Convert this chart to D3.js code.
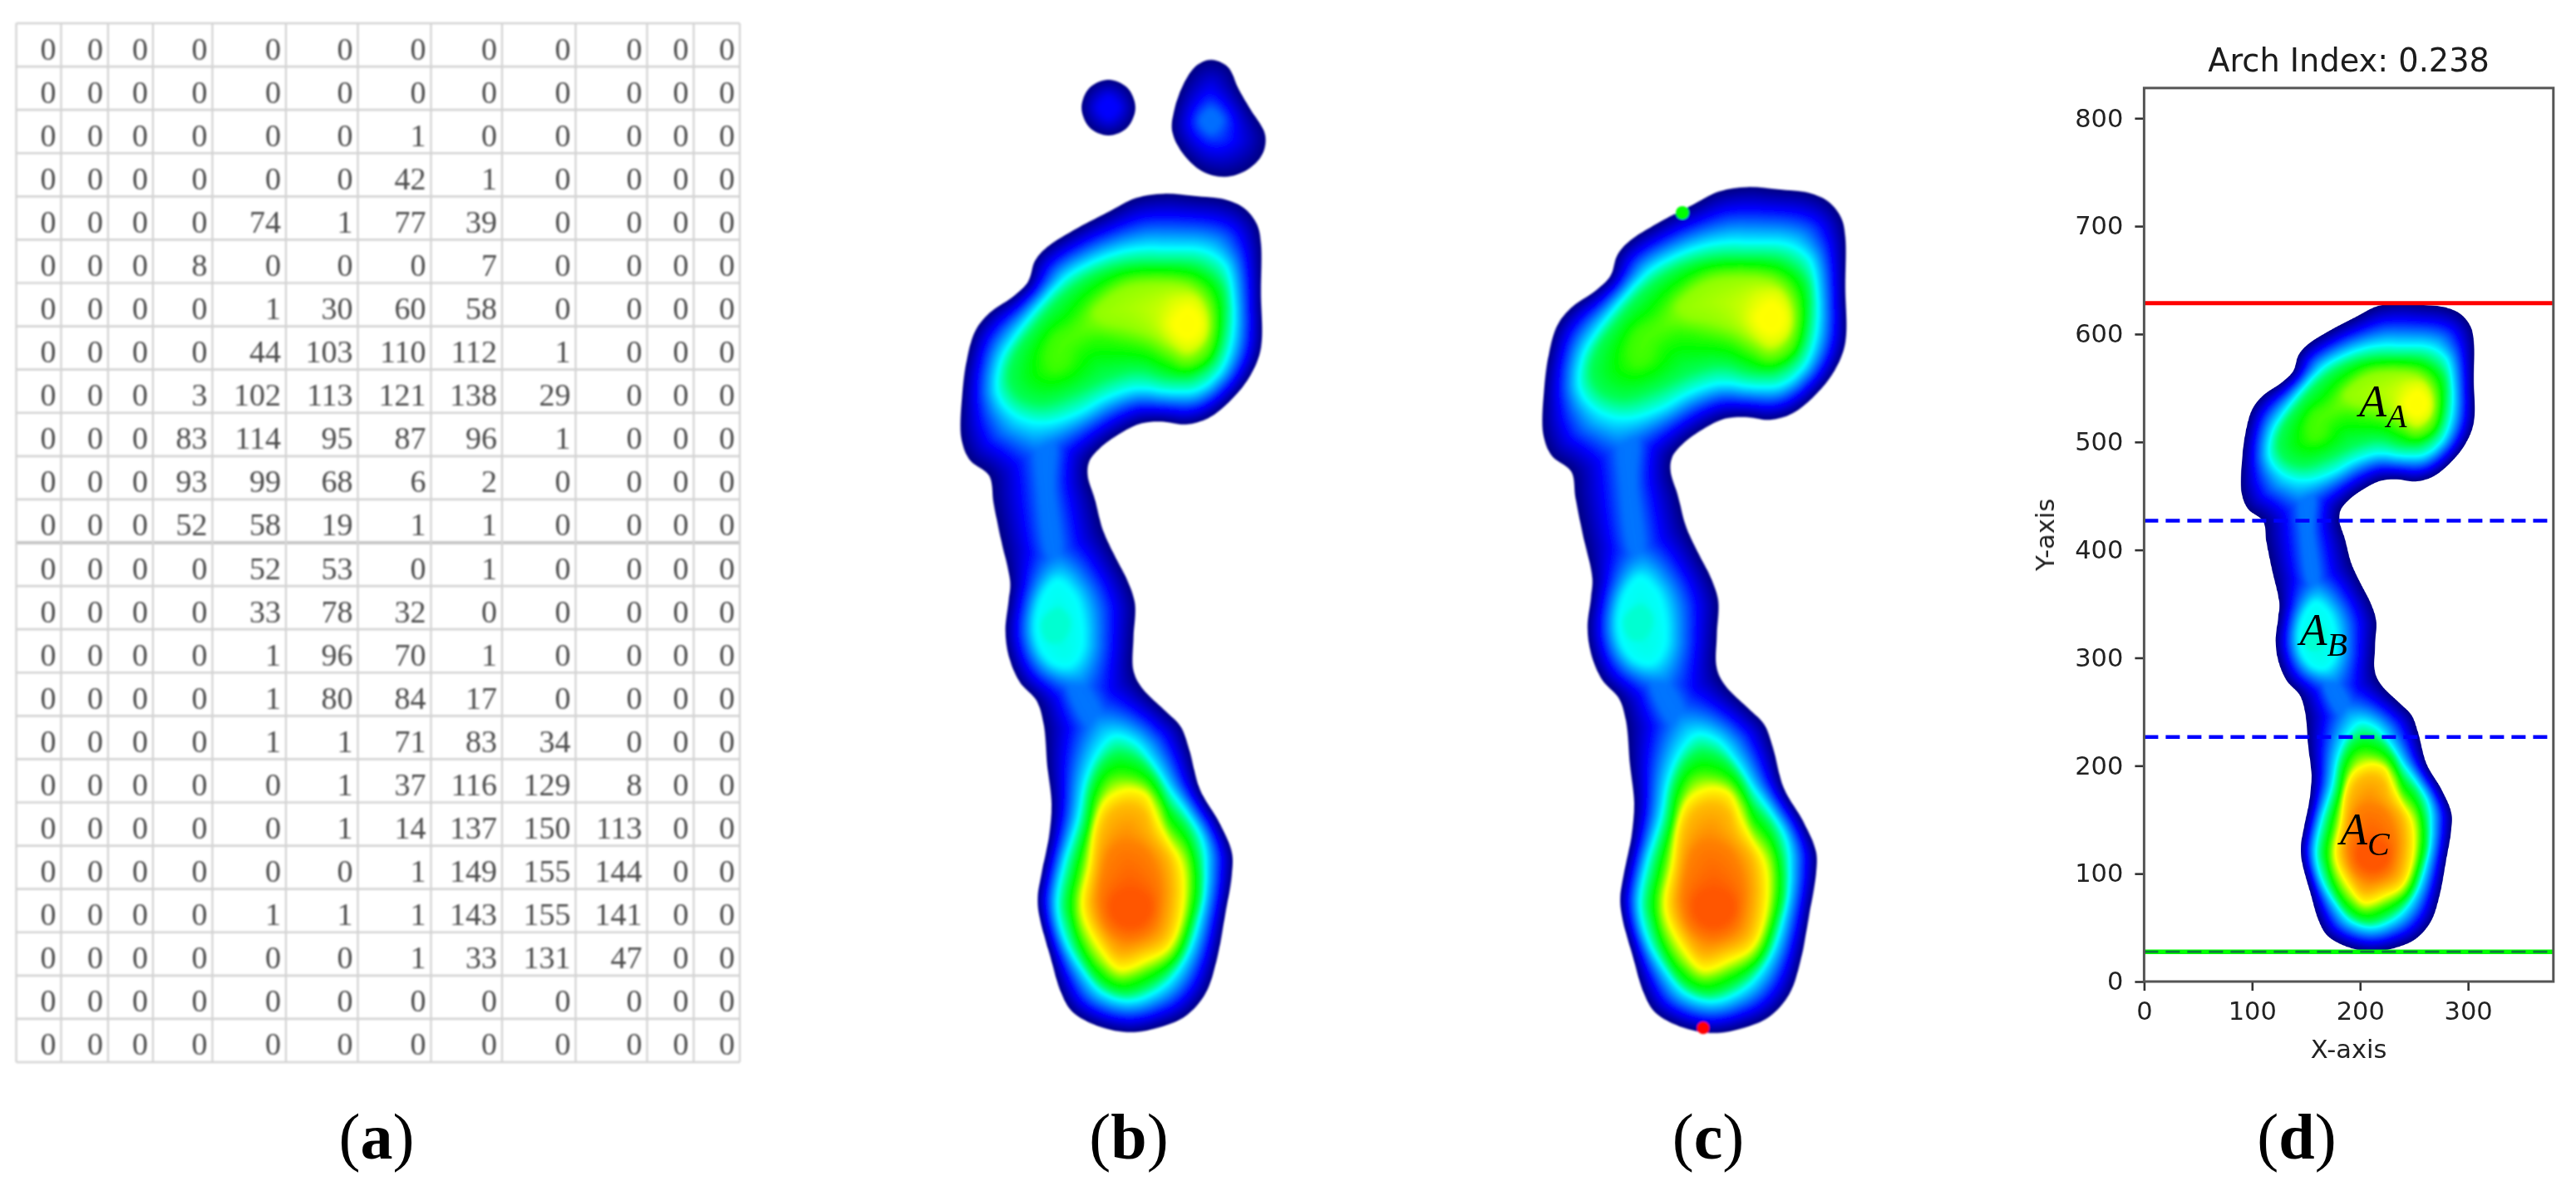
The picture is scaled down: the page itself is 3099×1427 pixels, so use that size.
<!DOCTYPE html>
<html><head><meta charset="utf-8">
<script src="https://cdn.jsdelivr.net/npm/d3@7/dist/d3.min.js"></script>
<style>html,body{margin:0;padding:0;background:#fff}svg{display:block}</style>
</head><body><svg id="fig" width="3099" height="1427" xmlns="http://www.w3.org/2000/svg"></svg>
<script>
// ---------- DATA ----------
const tableRows = [
[0,0,0,0,0,0,0,0,0,0,0,0],[0,0,0,0,0,0,0,0,0,0,0,0],[0,0,0,0,0,0,1,0,0,0,0,0],[0,0,0,0,0,0,42,1,0,0,0,0],
[0,0,0,0,74,1,77,39,0,0,0,0],[0,0,0,8,0,0,0,7,0,0,0,0],[0,0,0,0,1,30,60,58,0,0,0,0],[0,0,0,0,44,103,110,112,1,0,0,0],
[0,0,0,3,102,113,121,138,29,0,0,0],[0,0,0,83,114,95,87,96,1,0,0,0],[0,0,0,93,99,68,6,2,0,0,0,0],[0,0,0,52,58,19,1,1,0,0,0,0],
[0,0,0,0,52,53,0,1,0,0,0,0],[0,0,0,0,33,78,32,0,0,0,0,0],[0,0,0,0,1,96,70,1,0,0,0,0],[0,0,0,0,1,80,84,17,0,0,0,0],
[0,0,0,0,1,1,71,83,34,0,0,0],[0,0,0,0,0,1,37,116,129,8,0,0],[0,0,0,0,0,1,14,137,150,113,0,0],[0,0,0,0,0,0,1,149,155,144,0,0],
[0,0,0,0,1,1,1,143,155,141,0,0],[0,0,0,0,0,0,1,33,131,47,0,0],[0,0,0,0,0,0,0,0,0,0,0,0],[0,0,0,0,0,0,0,0,0,0,0,0]];

const captions = ["(a)","(b)","(c)","(d)"];
const archTitle = "Arch Index: 0.238";
const xTicks = [0,100,200,300];
const yTicks = [0,100,200,300,400,500,600,700,800];
const redLine = 628.7, blueLines = [427, 226.6], greenLine = 27.6;
const regionLabels = [{main:"A",sub:"A",x:199,y:523.9},{main:"A",sub:"B",x:144,y:311.6},{main:"A",sub:"C",x:181.4,y:126.7}];
const topDot = [189.3,610.5], bottomDot = [204.1,31.4];

// Footprint outlines and pressure iso-lines, in the X-axis / Y-axis units of panel (d)
const footOutline = [[235.6,628.8],[257.5,627.1],[279.4,624.6],[293.4,618.3],[302.3,607],[305.3,593.2],[305.3,558.2],[305.3,518.1],[297.4,498],[283.4,480.5],[267.5,467.9],[251.6,463.4],[233.7,465.4],[219.7,464.2],[205.8,457.9],[189.9,446.6],[181.9,436.6],[180.9,426.6],[185.9,410.3],[191.8,387.8],[199.8,370.2],[209.8,350.6],[214.8,334.7],[213.8,310.7],[213.8,286.8],[219.7,274.8],[235.7,258.9],[247.6,246.9],[253.6,231],[261.5,201.8],[275.5,177.8],[284.4,156.6],[284.4,140.6],[279.5,111.4],[273.5,79.5],[265.5,55.6],[251.6,39.6],[233.7,31.6],[211.8,27.7],[189.9,31.6],[170,42.3],[162,55.6],[154,82.1],[146.1,111.4],[145.1,124.7],[148.1,143.3],[153,167.2],[155,191.1],[152,217.7],[149.1,249.6],[144.1,265.5],[132.1,278.8],[124.2,297.4],[121.8,316],[124.2,337.3],[125.2,350.6],[118.2,382.7],[113.2,407.8],[110.2,426.6],[96.3,437.9],[90.3,452.9],[90.7,483],[94.3,510.5],[100.3,530.6],[110.2,543.1],[128.1,555.6],[138.1,565.7],[143.1,580.7],[152,590.7],[171.9,603.3],[195.8,615.8],[215.7,625.8]];
const smallToe = [[195.8,710.5],[209.5,704.6],[215.1,690.5],[209.5,676.4],[195.8,670.5],[182.1,676.4],[176.5,690.5],[182.1,704.6]];
const bigToe = [[269.5,724.8],[281.4,719.8],[289.4,703.5],[297.4,689.7],[308.3,670.9],[306.3,657.1],[295.4,645.9],[279.4,640.9],[263.5,644.6],[249.6,657.1],[241.6,673.4],[243.6,691],[251.6,711],[259.5,721]];

const fore36 = [[237.6,589.5],[263.5,588.2],[279.4,578.2],[285.4,553.1],[284.4,523.1],[275.5,500.5],[259.5,488],[239.6,486.7],[217.7,489.2],[195.8,483],[171.9,470.4],[148,464.2],[128.1,470.4],[116.2,485.5],[118.2,508],[128.1,525.6],[148,550.6],[167.9,570.7],[195.8,584.5],[217.7,589.5]];
const fore45 = [[231.7,579.5],[261.5,576.9],[277.5,563.2],[279.4,533.1],[271.5,508],[255.6,496.8],[237.6,496.8],[217.7,501.8],[195.8,496.8],[171.9,485.5],[148,478],[132.1,483],[124.1,495.5],[128.1,513],[142.1,533.1],[162,555.6],[183.9,570.7],[207.8,578.2]];
const fore53 = [[227.7,570.7],[257.5,566.9],[269.5,555.7],[273.5,535.6],[267.5,513],[251.6,504.3],[237.6,510.5],[223.7,518.1],[203.8,523.1],[185.9,525.6],[171.9,518.1],[166,505.5],[156,501.8],[151,510.5],[156,525.6],[170,535.6],[183.9,553.1],[203.8,566.9]];
const fore58 = [[225.7,564.4],[253.6,561.9],[265.5,550.6],[268.5,533.1],[262.5,518.1],[251.6,511.8],[239.6,518.1],[225.7,526.8],[207.8,533.1],[191.8,536.9],[185.9,543.1],[195.8,554.4],[209.8,561.9]];
const fore62 = [[239.6,552],[257.5,555],[266.5,541],[265.5,525],[253.6,516],[243.6,521],[233.6,535.6]];
const fore645 = [[252.6,547],[260,542],[262,535.6],[259,528],[252.6,525],[246,528],[242,535.6],[246,542]];

const heel36 = [[199.8,240.3],[213.8,236.3],[227.7,220.4],[239.6,201.8],[251.6,185.8],[263.5,164.5],[265.5,137.9],[261.5,111.4],[251.6,82.1],[235.7,60.9],[211.8,50.2],[191.9,55.6],[175.9,74.2],[164,95.4],[159,119.4],[164,148.6],[174,180.5],[179.9,209.7],[189.9,231]];
const heel45 = [[201.8,228.3],[216.8,224.3],[230.7,209.7],[239.6,191.1],[252.6,175.2],[261.1,151.2],[262.2,124.7],[257.6,107.4],[247.6,80.8],[229.7,63.5],[207.8,55],[189.9,62.2],[174.9,83.5],[166.4,107.4],[164,119.4],[169,145.9],[177.9,177.8],[182.9,204.4],[191.9,221.7]];
const heel53 = [[204.8,212.4],[220.7,208.4],[232.7,193.8],[238.6,177.8],[251.6,160.6],[256,137.9],[251.6,104.7],[241.6,82.1],[223.7,70.2],[203.8,64.1],[188.9,74.2],[175.5,96.8],[171.4,119.4],[175.9,144.6],[183.5,175.2],[187.5,195.1],[195.8,209.7]];
const heel58 = [[206.8,207.1],[221.7,203.1],[231.7,188.5],[238,172.5],[250,155.2],[253.6,137.9],[250,107.4],[240.6,84.8],[223.7,74.2],[203.8,68.3],[189.5,79.5],[176.9,102.1],[173.9,119.4],[178.9,145.9],[184.3,176.5],[188.9,189.8],[196.8,203.1]];
const heel62 = [[208.8,203.9],[222.7,199.9],[231.3,184.5],[238.6,167.2],[249.2,149.9],[250.6,116.7],[240,88.8],[223.7,77.4],[203.8,70.8],[189.5,84.8],[177.5,107.4],[175.5,123.3],[180.9,148.6],[185.3,177.8],[192.9,196.4]];
const heel645 = [[209.8,201.8],[223.7,197.8],[230.7,180.5],[239.6,164.5],[248.6,145.9],[248.6,111.4],[239.6,87.5],[223.7,79.5],[203.8,72.8],[189.9,87.5],[177.9,111.4],[176.9,124.7],[181.9,148.6],[185.9,177.8],[193.8,193.8]];
const heel70 = [[209.8,191.1],[221.7,185.8],[227.7,169.9],[239.6,151.2],[242.6,122],[235.7,95.4],[219.7,86.1],[203.8,82.1],[191.9,95.4],[182.9,116.7],[185.9,143.3],[190.9,172.5],[197.8,185.8]];
const heel75 = [[207.8,164.5],[221.7,159.2],[231.7,140.6],[233.7,119.4],[227.7,100.7],[209.8,92.8],[195.8,100.7],[188.9,119.4],[191.9,143.3],[197.8,159.2]];
const heel787 = [[211.8,130],[223.7,124.7],[225.7,114],[217.7,104.7],[205.8,104.7],[197.8,114],[199.8,124.7]];
const mid36 = [[159,352],[171,342],[177,324],[177,302],[168,290],[156,292],[147,302],[143,318.7],[148,340]];

const isoBands = [
  {level:.36, polys:[fore36,heel36,mid36]},
  {level:.45, polys:[fore45,heel45]},
  {level:.53, polys:[fore53,heel53]},
  {level:.58, polys:[fore58,heel58]},
  {level:.62, polys:[fore62,heel62]},
  {level:.645,polys:[fore645,heel645]},
  {level:.70, polys:[heel70]},
  {level:.75, polys:[heel75]},
  {level:.787,polys:[heel787]}];
const localRises = [
  {level:.24, polys:[[[146,455],[156,455],[156,418],[160,368],[154,368],[146,418]],
                     [[166,285],[172,285],[196,240],[190,238],[172,262]]]},
  {level:.385, polys:[[[160,332],[168,322],[162,308],[152,308],[148,322]]]},
  {level:.235,polys:[[[269.5,689],[277,681],[269.5,673],[262,681]]]},
  {level:.14, polys:[[[195.8,698],[203,690.5],[195.8,683],[188.5,690.5]]]}];

const cmapStops = [0,.14,.36,.5,.645,.86,1];
const cmapColors = ["#00007f","#0000ff","#00ffff","#00ff00","#ffff00","#ff0000","#7f0000"];

// ---------- LAYOUT ----------
const svg = d3.select("#fig");
svg.append("rect").attr("width",3099).attr("height",1427).attr("fill","#fff");
const defs = svg.append("defs");
defs.append("filter").attr("id","soft").attr("x","-2%").attr("y","-2%").attr("width","104%").attr("height","104%")
  .append("feGaussianBlur").attr("stdDeviation",0.8);
defs.append("filter").attr("id","softer").attr("x","-5%").attr("y","-5%").attr("width","110%").attr("height","110%")
  .append("feGaussianBlur").attr("stdDeviation",0.55);

// ---------- TABLE (a) ----------
const colEdges = [19.5,73.5,130,184,255.5,344,430.5,518.5,604,692.5,778.5,834.5,890];
const tx = d3.scaleLinear().domain(d3.range(13)).range(colEdges);
const ty = d3.scaleLinear().domain([0,24]).range([28,1278]);
const tg = svg.append("g").attr("filter","url(#soft)");
tg.selectAll("line.h").data(d3.range(25)).join("line").attr("x1",tx(0)).attr("x2",tx(12))
  .attr("y1",d=>ty(d)).attr("y2",d=>ty(d)).attr("stroke",d=>d===12?"#c8c8c8":"#d4d4d4").attr("stroke-width",d=>d===12?4:2.6);
tg.selectAll("line.v").data(d3.range(13)).join("line").attr("y1",ty(0)).attr("y2",ty(24))
  .attr("x1",d=>tx(d)).attr("x2",d=>tx(d)).attr("stroke","#d4d4d4").attr("stroke-width",2.4);
const cells = tableRows.flatMap((r,i)=>r.map((v,j)=>({v,i,j})));
tg.selectAll("text").data(cells).join("text")
  .attr("x",d=>tx(d.j+1)-6).attr("y",d=>ty(d.i)+43.5)
  .attr("text-anchor","end").attr("font-family","'Liberation Serif'").attr("font-size",38).attr("fill","#4d4d4d")
  .text(d=>d.v);

// ---------- FOOT FIELD ----------
const S=2, ux0=80, ux1=320, uy0=15, uy1=735, W=(ux1-ux0)*S, H=(uy1-uy0)*S;
const gx=d3.scaleLinear([ux0,ux1],[0,W]), gy=d3.scaleLinear([uy0,uy1],[H,0]);
function raster(polys){
  const c=document.createElement("canvas");c.width=W;c.height=H;
  const ctx=c.getContext("2d",{willReadFrequently:true});
  const line=d3.line().x(p=>gx(p[0])).y(p=>gy(p[1])).curve(d3.curveCatmullRomClosed.alpha(.5)).context(ctx);
  ctx.fillStyle="#000";ctx.beginPath();polys.forEach(p=>line(p));ctx.fill();
  const px=ctx.getImageData(0,0,W,H).data;
  const alpha=new Uint8Array(W*H);
  for(let i=0;i<W*H;i++)alpha[i]=px[i*4+3];
  return alpha;
}
function edt(mask,target){ // distance to the nearest pixel with (mask>127)===target
  const INF=1e12,N=Math.max(W,H);
  const g=new Float64Array(W*H);
  for(let i=0;i<W*H;i++)g[i]=((mask[i]>127)===target)?0:INF;
  const f=new Float64Array(N),d=new Float64Array(N),z=new Float64Array(N+1),v=new Int32Array(N);
  function pass(n){
    let k=0;v[0]=0;z[0]=-INF;z[1]=INF;
    for(let q=1;q<n;q++){
      let s;
      do{const r=v[k];s=(f[q]+q*q-f[r]-r*r)/(2*q-2*r);}while(s<=z[k]&&--k>-1);
      k++;v[k]=q;z[k]=s;z[k+1]=INF;
    }
    k=0;
    for(let q=0;q<n;q++){while(z[k+1]<q)k++;const r=v[k];d[q]=(q-r)*(q-r)+f[r];}
  }
  for(let x=0;x<W;x++){
    for(let y=0;y<H;y++)f[y]=g[y*W+x];
    pass(H);
    for(let y=0;y<H;y++)g[y*W+x]=d[y];
  }
  for(let y=0;y<H;y++){
    for(let x=0;x<W;x++)f[x]=g[y*W+x];
    pass(W);
    for(let x=0;x<W;x++)g[y*W+x]=d[x];
  }
  const o=new Float32Array(W*H);
  for(let i=0;i<W*H;i++)o[i]=Math.sqrt(g[i]);
  return o;
}
const outer=raster([footOutline,smallToe,bigToe]);
const dEdge=edt(outer,false);
const bands=isoBands.map(b=>{const m=raster(b.polys);return {level:b.level,m,toIn:edt(m,true),toOut:edt(m,false)};});
const rises=localRises.map(b=>{const m=raster(b.polys);return {level:b.level,m,toIn:edt(m,true)};});
let field=new Float32Array(W*H);
for(let i=0;i<W*H;i++){
  if(outer[i]===0)continue;
  let k=-1;
  for(let b=0;b<bands.length;b++){ if(bands[b].m[i]>127)k=b; else break; }
  let v;
  if(k<0){const dA=dEdge[i],dB=bands[0].toIn[i];v=bands[0].level*dA/(dA+dB+1e-6);}
  else if(k===bands.length-1)v=bands[k].level;
  else{const dA=bands[k].toOut[i],dB=bands[k+1].toIn[i];v=bands[k].level+(bands[k+1].level-bands[k].level)*dA/(dA+dB+1e-6);}
  for(const r of rises){
    const h=r.m[i]>127?r.level:r.level*dEdge[i]/(dEdge[i]+r.toIn[i]+1e-6);
    if(h>v)v=h;
  }
  field[i]=v;
}
function boxBlur(src,rad){
  const tmp=new Float32Array(W*H),out=new Float32Array(W*H),n=2*rad+1;
  for(let y=0;y<H;y++){let s=0;
    for(let x=-rad;x<=rad;x++)s+=src[y*W+Math.max(0,Math.min(W-1,x))];
    for(let x=0;x<W;x++){tmp[y*W+x]=s/n;s+=src[y*W+Math.min(W-1,x+rad+1)]-src[y*W+Math.max(0,x-rad)];}}
  for(let x=0;x<W;x++){let s=0;
    for(let y=-rad;y<=rad;y++)s+=tmp[Math.max(0,Math.min(H-1,y))*W+x];
    for(let y=0;y<H;y++){out[y*W+x]=s/n;s+=tmp[Math.min(H-1,y+rad+1)*W+x]-tmp[Math.max(0,y-rad)*W+x];}}
  return out;
}
field=boxBlur(boxBlur(boxBlur(field,3),3),3);
const cmap=d3.scaleLinear().domain(cmapStops).range(cmapColors).clamp(true);
const lut=d3.range(1024).map(i=>d3.rgb(cmap(i/1023)));
function footImage(withToes){
  const c=document.createElement("canvas");c.width=W;c.height=H;
  const ctx=c.getContext("2d");const im=ctx.createImageData(W,H);
  const cut=Math.round(gy(634));
  for(let y=0;y<H;y++)for(let x=0;x<W;x++){
    const i=y*W+x,col=lut[Math.min(1023,Math.round(field[i]*1023))];
    im.data[i*4]=col.r;im.data[i*4+1]=col.g;im.data[i*4+2]=col.b;
    im.data[i*4+3]=(!withToes&&y<cut)?0:outer[i];
  }
  ctx.putImageData(im,0,0);
  return c.toDataURL("image/png");
}
const urlToes=footImage(true),urlFoot=footImage(false);
function drawFoot(g,sx,sy,url){
  g.append("image").attr("href",url).attr("preserveAspectRatio","none")
   .attr("x",sx(ux0)).attr("y",sy(uy1)).attr("width",sx(ux1)-sx(ux0)).attr("height",sy(uy0)-sy(uy1));
}

// ---------- PANEL (b) ----------
const bx=d3.scaleLinear([90.5,305.3],[1157,1517]), by=d3.scaleLinear([27.7,628.8],[1242,233]);
drawFoot(svg.append("g").attr("filter","url(#soft)"),bx,by,urlToes);

// ---------- PANEL (c) ----------
const cx=d3.scaleLinear([90.5,305.3],[1857,2220]), cy=d3.scaleLinear([27.7,628.8],[1243,225]);
const cg=svg.append("g").attr("filter","url(#soft)");
drawFoot(cg,cx,cy,urlFoot);
cg.append("circle").attr("cx",cx(topDot[0])).attr("cy",cy(topDot[1])).attr("r",8).attr("fill","#00ff00");
cg.append("circle").attr("cx",cx(bottomDot[0])).attr("cy",cy(bottomDot[1])).attr("r",7.5).attr("fill","#ff0000");

// ---------- PANEL (d) ----------
const dL=2579.4,dR=3071.8,dT=105.9,dB=1181;
const dx=d3.scaleLinear([0,379],[dL,dR]), dy=d3.scaleLinear([0,828],[dB,dT]);
const dg=svg.append("g").attr("filter","url(#softer)");
drawFoot(dg,dx,dy,urlFoot);
const lineG=dg.append("g");
function hLine(v,col,w,dash){const l=lineG.append("line").attr("x1",dL).attr("x2",dR).attr("y1",dy(v)).attr("y2",dy(v)).attr("stroke",col).attr("stroke-width",w);if(dash)l.attr("stroke-dasharray",dash);}
hLine(redLine,"#ff0000",5);
blueLines.forEach(v=>hLine(v,"#0000ff",4.5,"17 9"));
hLine(greenLine,"#00ff00",5.5);
hLine(greenLine,"#0b7a3b",2.6,"17 9");
const fontD="'DejaVu Sans'";
const ax=dg.append("g").attr("transform",`translate(0,${dB})`).call(d3.axisBottom(dx).tickValues(xTicks).tickSize(11).tickPadding(13).tickFormat(d3.format("d")));
const ay=dg.append("g").attr("transform",`translate(${dL},0)`).call(d3.axisLeft(dy).tickValues(yTicks).tickSize(11).tickPadding(14).tickFormat(d3.format("d")));
[ax,ay].forEach(a=>{a.selectAll("text").attr("font-family",fontD).attr("font-size",30.5).attr("fill","#222");
  a.selectAll("line").attr("stroke","#333").attr("stroke-width",2.6);a.select(".domain").remove();});
dg.append("rect").attr("x",dL).attr("y",dT).attr("width",dR-dL).attr("height",dB-dT).attr("fill","none").attr("stroke","#555").attr("stroke-width",3);
dg.append("text").attr("x",(dL+dR)/2).attr("y",85.5).attr("text-anchor","middle").attr("font-family",fontD).attr("font-size",38.3).attr("fill","#1a1a1a").text(archTitle);
dg.append("text").attr("x",(dL+dR)/2).attr("y",1272.5).attr("text-anchor","middle").attr("font-family",fontD).attr("font-size",30.5).attr("fill","#222").text("X-axis");
dg.append("text").attr("transform",`translate(2471,${(dT+dB)/2}) rotate(-90)`).attr("text-anchor","middle").attr("font-family",fontD).attr("font-size",30.5).attr("fill","#222").text("Y-axis");
const lab=dg.selectAll("text.region").data(regionLabels).join("text").attr("class","region")
  .attr("x",d=>dx(d.x)).attr("y",d=>dy(d.y)).attr("font-family","'Liberation Serif'").attr("font-style","italic").attr("fill","#000").attr("font-size",54);
lab.append("tspan").text(d=>d.main);
lab.append("tspan").attr("font-size",40).attr("dy",13).text(d=>d.sub);

// ---------- CAPTIONS ----------
const capX=[453,1358,2055,2763];
const capG=svg.selectAll("text.cap").data(captions).join("text").attr("class","cap")
  .attr("x",(d,i)=>capX[i]).attr("y",1394).attr("text-anchor","middle").attr("font-family","'Liberation Serif'").attr("font-size",78).attr("fill","#000");
capG.each(function(d){
  const t=d3.select(this);
  t.append("tspan").text("(");
  t.append("tspan").attr("font-weight","bold").text(d.slice(1,2));
  t.append("tspan").text(")");
});
</script></body></html>
